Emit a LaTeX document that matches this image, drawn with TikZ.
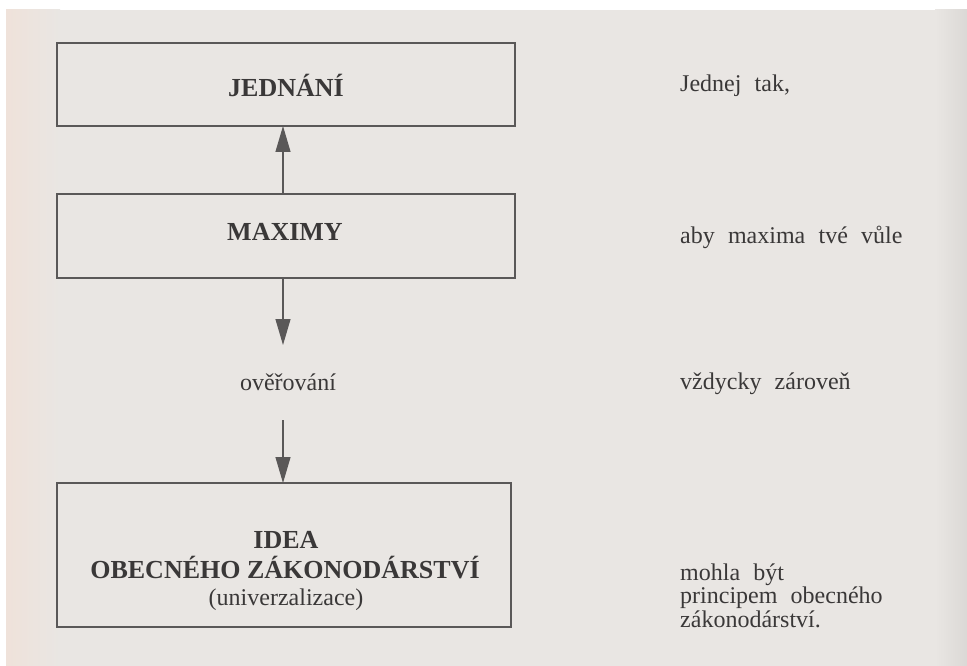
\documentclass[tikz,border=0pt]{standalone}
\usepackage{fontspec}
\setmainfont{Liberation Serif}
\usetikzlibrary{arrows.meta}
\definecolor{paper}{HTML}{E9E6E3}
\definecolor{paperpink}{HTML}{EFE2DA}
\definecolor{ink}{HTML}{3A3838}
\definecolor{linec}{HTML}{5A5858}
\newcommand{\widesp}{\spaceskip=0.55em plus 0.1em\relax}
\tikzset{
  box/.style={draw=linec, line width=1.4pt, rectangle, inner sep=0pt},
  boldlab/.style={text=ink, font=\fontsize{26}{30}\selectfont\bfseries, inner sep=0pt, align=center},
  plainlab/.style={text=ink, font=\fontsize{24}{23.5}\selectfont\widesp, inner sep=0pt, align=left},
  arr/.style={draw=linec, line width=1.2pt, -{Triangle[length=26pt,width=15pt]}, shorten >=0pt}
}
\begin{document}
\begin{tikzpicture}[x=1pt,y=-1pt]
\useasboundingbox (0,0) rectangle (967,666);
% paper
\fill[white] (0,0) rectangle (967,666);
\fill[paper] (6,10) rectangle (967,666);
\shade[left color=paperpink, right color=paper] (6,10) rectangle (60,666);
\shade[left color=paper, right color=paper!94!black] (935,10) rectangle (967,666);
% boxes
\node[box, minimum width=458pt, minimum height=83pt] (jed) at (286,84.5) {};
\node[box, minimum width=458pt, minimum height=84pt] (max) at (286,236) {};
\node[box, minimum width=454pt, minimum height=144pt] (idea) at (284,555) {};
% box texts
\node[boldlab] (tjed) at (286,85) {JEDNÁNÍ};
\node[boldlab] (tmax) at (285,232) {MAXIMY};
\node[boldlab, anchor=base] (tidea1) at (286,548) {IDEA};
\node[boldlab, anchor=base] (tidea2) at (285,578) {OBECNÉHO ZÁKONODÁRSTVÍ};
\node[text=ink, font=\fontsize{24}{23.5}\selectfont, inner sep=0pt, anchor=base] (tidea3) at (286,605) {(univerzalizace)};
% middle label
\node[text=ink, font=\fontsize{24}{23.5}\selectfont, inner sep=0pt] (over) at (288,382) {ověřování};
% right column
\node[plainlab, anchor=base west] (r1) at (680,92) {Jednej tak,};
\node[plainlab, anchor=base west] (r2) at (680,243) {aby maxima tvé vůle};
\node[plainlab, anchor=base west] (r3) at (680,389) {vždycky zároveň};
\node[plainlab, anchor=base west] (r4) at (680,627) {mohla být\\principem obecného\\zákonodárství.};
% connectors
\coordinate (a1s) at (283,194);
\coordinate (a1e) at (283,126);
\coordinate (a2s) at (283,278);
\coordinate (a2e) at (283,345);
\coordinate (a3s) at (283,420);
\coordinate (a3e) at (283,483);
\draw[arr] (a1s) -- (a1e);
\draw[arr] (a2s) -- (a2e);
\draw[arr] (a3s) -- (a3e);
\end{tikzpicture}
\end{document}
